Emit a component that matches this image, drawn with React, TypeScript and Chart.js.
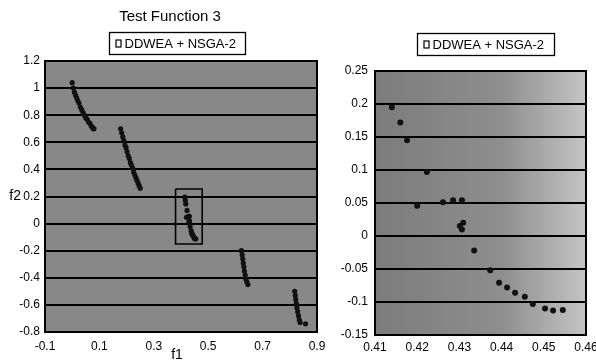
import React, { useEffect, useRef } from 'react';
import { Chart, registerables } from 'chart.js';

Chart.register(...registerables);

const chartTitle = 'Test Function 3';
const seriesLabel = 'DDWEA + NSGA-2';
const xAxisTitle = 'f1';
const yAxisTitle = 'f2';

// Full Pareto front (left chart), segments
const frontF1 = [
  0.000, 0.004, 0.008, 0.012, 0.016, 0.020, 0.025, 0.030, 0.035, 0.040, 0.045, 0.050, 0.055, 0.060, 0.065, 0.070, 0.075, 0.078, 0.080,
  0.178, 0.182, 0.186, 0.190, 0.194, 0.198, 0.202, 0.206, 0.210, 0.214, 0.218, 0.222, 0.226, 0.230, 0.234, 0.238, 0.242, 0.246, 0.250,
  0.622, 0.625, 0.627, 0.629, 0.631, 0.633, 0.636, 0.639, 0.642, 0.646,
  0.818, 0.820, 0.822, 0.824, 0.826, 0.829, 0.832, 0.835, 0.838, 0.858,
];
const frontF2 = [
  1.04, 1.00, 0.97, 0.95, 0.93, 0.91, 0.89, 0.86, 0.84, 0.82, 0.80, 0.78, 0.77, 0.75, 0.74, 0.72, 0.71, 0.70, 0.70,
  0.70, 0.67, 0.64, 0.61, 0.58, 0.56, 0.53, 0.50, 0.48, 0.45, 0.43, 0.41, 0.38, 0.36, 0.34, 0.32, 0.30, 0.28, 0.26,
  -0.20, -0.23, -0.26, -0.29, -0.32, -0.35, -0.38, -0.41, -0.43, -0.45,
  -0.50, -0.53, -0.56, -0.59, -0.62, -0.65, -0.68, -0.71, -0.73, -0.74,
];

// Zoomed segment (right chart, also drawn in the box of the left chart)
const zoomF1 = [
  0.4140, 0.4160, 0.4176, 0.4223, 0.4200, 0.4261, 0.4285, 0.4306, 0.4301, 0.4309, 0.4306,
  0.4335, 0.4373, 0.4394, 0.4413, 0.4432, 0.4455, 0.4474, 0.4503, 0.4522, 0.4545,
];
const zoomF2 = [
  0.195, 0.172, 0.145, 0.097, 0.046, 0.051, 0.054, 0.054, 0.015, 0.020, 0.010,
  -0.022, -0.052, -0.071, -0.078, -0.086, -0.092, -0.103, -0.110, -0.113, -0.112,
];

// Zoom box drawn on the left chart
const boxF1 = [0.38, 0.478, 0.478, 0.38, 0.38];
const boxF2 = [0.255, 0.255, -0.15, -0.15, 0.255];

const leftXTicks = [-0.1, 0.1, 0.3, 0.5, 0.7, 0.9];
const leftXLabels = ['-0.1', '0.1', '0.3', '0.5', '0.7', '0.9'];
const leftYTicks = [-0.8, -0.6, -0.4, -0.2, 0, 0.2, 0.4, 0.6, 0.8, 1, 1.2];
const leftYLabels = ['-0.8', '-0.6', '-0.4', '-0.2', '0', '0.2', '0.4', '0.6', '0.8', '1', '1.2'];

const rightXTicks = [0.41, 0.42, 0.43, 0.44, 0.45, 0.46];
const rightXLabels = ['0.41', '0.42', '0.43', '0.44', '0.45', '0.46'];
const rightYTicks = [-0.15, -0.1, -0.05, 0, 0.05, 0.1, 0.15, 0.2, 0.25];
const rightYLabels = ['-0.15', '-0.1', '-0.05', '0', '0.05', '0.1', '0.15', '0.2', '0.25'];

const FONT = '"Liberation Sans", Arial, Helvetica, sans-serif';

const toPoints = (xs: number[], ys: number[]) => xs.map((x, i) => ({ x, y: ys[i] }));

const decorPlugin = {
  id: 'decor',
  beforeDraw(chart: any, _args: any, opts: any) {
    const { ctx, chartArea: a } = chart;
    ctx.save();
    if (opts.gradient) {
      const g = ctx.createLinearGradient(a.left, 0, a.right, 0);
      g.addColorStop(0, '#7c7c7c');
      g.addColorStop(0.6, '#8e8e8e');
      g.addColorStop(1, '#c4c4c4');
      ctx.fillStyle = g;
    } else {
      ctx.fillStyle = '#888888';
    }
    ctx.fillRect(a.left, a.top, a.right - a.left, a.bottom - a.top);
    ctx.restore();
  },
  afterDraw(chart: any, _args: any, opts: any) {
    const { ctx, chartArea: a } = chart;
    ctx.save();
    ctx.strokeStyle = '#000';
    ctx.lineWidth = 2;
    ctx.strokeRect(a.left, a.top, a.right - a.left, a.bottom - a.top);

    ctx.fillStyle = '#000';
    ctx.textBaseline = 'middle';
    if (opts.title) {
      ctx.font = `15px ${FONT}`;
      ctx.textAlign = 'center';
      ctx.fillText(opts.title, opts.titleX, opts.titleY);
    }
    // legend
    const [lx1, ly1, lx2, ly2] = opts.legendBox;
    ctx.fillStyle = '#fff';
    ctx.fillRect(lx1, ly1, lx2 - lx1, ly2 - ly1);
    ctx.strokeStyle = '#000';
    ctx.lineWidth = 1.3;
    ctx.strokeRect(lx1, ly1, lx2 - lx1, ly2 - ly1);
    const cy = (ly1 + ly2) / 2;
    ctx.lineWidth = 1.2;
    ctx.strokeRect(lx1 + 6.5, cy - 3.5, 5, 7);
    ctx.fillStyle = '#000';
    ctx.font = `13px ${FONT}`;
    ctx.textAlign = 'left';
    ctx.fillText(opts.legendText, lx1 + 15, cy + 0.5);

    if (opts.xTitle) {
      ctx.font = `14px ${FONT}`;
      ctx.textAlign = 'center';
      ctx.fillText(opts.xTitle, opts.xTitleX, opts.xTitleY);
    }
    if (opts.yTitle) {
      const ys = chart.scales.y;
      ctx.font = `14px ${FONT}`;
      ctx.textAlign = 'right';
      ctx.fillText(opts.yTitle, opts.yTitleX, ys.getPixelForValue(opts.yTitleAt));
    }
    ctx.restore();
  },
};

function makeScales(
  xMin: number, xMax: number, xTicks: number[], xLabels: string[],
  yMin: number, yMax: number, yTicks: number[], yLabels: string[],
  yWidth: number, xHeight: number, yPad: number, xPad: number,
) {
  const font = { family: FONT, size: 12 };
  return {
    x: {
      type: 'linear',
      min: xMin,
      max: xMax,
      afterBuildTicks: (s: any) => { s.ticks = xTicks.map((v) => ({ value: v })); },
      ticks: {
        callback: (_v: any, i: number) => xLabels[i],
        font, color: '#000', padding: xPad, autoSkip: false, maxRotation: 0,
      },
      grid: { display: false, drawTicks: false },
      border: { display: false },
      afterFit: (s: any) => { s.height = xHeight; s.paddingLeft = 0; s.paddingRight = 0; },
    },
    y: {
      type: 'linear',
      min: yMin,
      max: yMax,
      afterBuildTicks: (s: any) => { s.ticks = yTicks.map((v) => ({ value: v })); },
      ticks: {
        callback: (_v: any, i: number) => yLabels[i],
        font, color: '#000', padding: yPad, autoSkip: false,
      },
      grid: { color: '#000', lineWidth: 2, drawTicks: false },
      border: { display: false },
      afterFit: (s: any) => { s.width = yWidth; s.paddingTop = 0; s.paddingBottom = 0; },
    },
  };
}

export default function App() {
  const leftRef = useRef<HTMLCanvasElement>(null);
  const rightRef = useRef<HTMLCanvasElement>(null);

  useEffect(() => {
    const left = new Chart(leftRef.current as HTMLCanvasElement, {
      type: 'scatter',
      data: {
        datasets: [
          {
            label: seriesLabel,
            data: [...toPoints(frontF1, frontF2), ...toPoints(zoomF1, zoomF2)],
            pointRadius: 2.6,
            pointBackgroundColor: '#111',
            pointBorderWidth: 0,
          },
          {
            label: 'box',
            data: toPoints(boxF1, boxF2),
            showLine: true,
            pointRadius: 0,
            borderColor: '#000',
            borderWidth: 1.6,
            fill: false,
          },
        ],
      } as any,
      options: {
        animation: false,
        responsive: false,
        devicePixelRatio: 1,
        layout: { padding: { top: 61, right: 13, left: 0, bottom: 0 } },
        scales: makeScales(-0.1, 0.9, leftXTicks, leftXLabels, -0.8, 1.2, leftYTicks, leftYLabels, 45, 31, 5, 7) as any,
        plugins: {
          legend: { display: false },
          title: { display: false },
          tooltip: { enabled: false },
          decor: {
            title: chartTitle, titleX: 170, titleY: 17,
            legendBox: [109.5, 32.5, 245.5, 54.5], legendText: seriesLabel,
            xTitle: xAxisTitle, xTitleX: 177, xTitleY: 355,
            yTitle: yAxisTitle, yTitleX: 21, yTitleAt: 0.2,
          },
        } as any,
      },
      plugins: [decorPlugin],
    });

    const right = new Chart(rightRef.current as HTMLCanvasElement, {
      type: 'scatter',
      data: {
        datasets: [
          {
            label: seriesLabel,
            data: toPoints(zoomF1, zoomF2),
            pointRadius: 3,
            pointBackgroundColor: '#111',
            pointBorderWidth: 0,
          },
        ],
      } as any,
      options: {
        animation: false,
        responsive: false,
        devicePixelRatio: 1,
        layout: { padding: { top: 71, right: 10, left: 0, bottom: 0 } },
        scales: makeScales(0.41, 0.46, rightXTicks, rightXLabels, -0.15, 0.25, rightYTicks, rightYLabels, 45, 28, 7, 5) as any,
        plugins: {
          legend: { display: false },
          title: { display: false },
          tooltip: { enabled: false },
          decor: {
            gradient: true,
            legendBox: [87.5, 33.5, 224.5, 55.5], legendText: seriesLabel,
          },
        } as any,
      },
      plugins: [decorPlugin],
    });

    return () => {
      left.destroy();
      right.destroy();
    };
  }, []);

  return (
    <div style={{ position: 'fixed', left: 0, top: 0, width: 596, height: 363, background: '#fff', overflow: 'hidden' }}>
      <canvas ref={leftRef} width={330} height={363} style={{ position: 'absolute', left: 0, top: 0 }} />
      <canvas ref={rightRef} width={266} height={363} style={{ position: 'absolute', left: 330, top: 0 }} />
    </div>
  );
}
